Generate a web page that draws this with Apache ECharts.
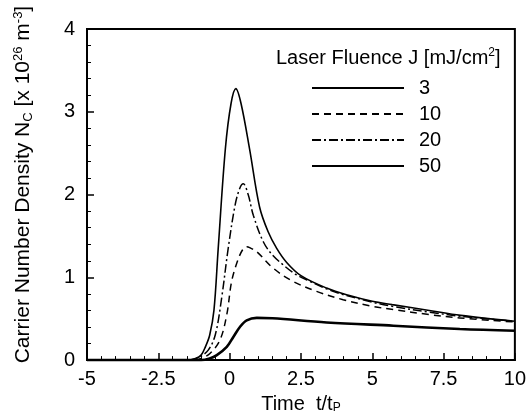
<!DOCTYPE html>
<html>
<head>
<meta charset="utf-8">
<script src="https://cdn.jsdelivr.net/npm/echarts@6/dist/echarts.min.js"></script>
<style>html,body{margin:0;padding:0;background:#fff}#c{width:529px;height:419px}</style>
</head>
<body>
<div id="c"></div>
<script>
// Data (t/tp, carrier density x1e26 m^-3)
const t3  = [-5, -1.0, -0.7, -0.45, -0.1, 0.13, 0.36, 0.6, 0.95, 1.5, 3.4, 5.74, 8.07, 10];
const v3  = [0, 0, 0.02, 0.06, 0.16, 0.28, 0.40, 0.48, 0.51, 0.505, 0.455, 0.415, 0.375, 0.355];
const t10 = [-5, -1.3, -1.0, -0.69, -0.34, -0.1, 0.07, 0.27, 0.45, 0.6, 0.75, 0.95, 1.53, 2.23, 3.05, 3.98, 5.0, 5.74, 7.0, 8.07, 10];
const v10 = [0, 0, 0.02, 0.08, 0.24, 0.55, 0.95, 1.19, 1.33, 1.37, 1.35, 1.31, 1.11, 0.95, 0.83, 0.73, 0.65, 0.61, 0.55, 0.51, 0.46];
const t20 = [-5, -1.4, -1.1, -0.75, -0.5, -0.28, -0.05, 0.19, 0.35, 0.48, 0.65, 0.83, 1.18, 1.5, 1.88, 2.3, 2.82, 3.4, 4.0, 5.0, 5.7, 7.0, 8.1, 10];
const v20 = [0, 0, 0.03, 0.12, 0.31, 0.75, 1.35, 1.87, 2.07, 2.13, 2.0, 1.75, 1.43, 1.27, 1.15, 1.04, 0.95, 0.86, 0.79, 0.70, 0.65, 0.58, 0.53, 0.47];
const t50 = [-5, -1.5, -1.2, -1.0, -0.85, -0.7, -0.55, -0.4, -0.15, 0.05, 0.22, 0.4, 0.7, 1.05, 1.35, 1.65, 2.0, 2.5, 3.4, 4.2, 5.0, 5.7, 7.0, 8.1, 10];
const v50 = [0, 0, 0.02, 0.06, 0.16, 0.3, 0.6, 1.35, 2.55, 3.1, 3.28, 3.1, 2.55, 1.85, 1.55, 1.35, 1.18, 1.02, 0.87, 0.78, 0.71, 0.67, 0.6, 0.54, 0.47];
const seriesNames = ['3', '10', '20', '50'];
const xTicks = [-5, -2.5, 0, 2.5, 5, 7.5, 10];
const yTicks = [0, 1, 2, 3, 4];

const pairs = (t, v) => t.map((x, i) => [x, v[i]]);
const FONT = 'Liberation Sans, Arial, Helvetica, sans-serif';
const chart = echarts.init(document.getElementById('c'));
const mk = (name, t, v, w, type) => ({
  name, type: 'line', data: pairs(t, v), showSymbol: false, symbol: 'none',
  smooth: 0.35, lineStyle: { color: '#000', width: w, type }, itemStyle: { color: '#000' }
});
chart.setOption({
  animation: false,
  backgroundColor: '#fff',
  grid: { left: 87, right: 14, top: 29, bottom: 56, show: true, borderColor: '#000', borderWidth: 2 },
  title: {
    text: 'Laser Fluence J [mJ/cm{sup|2}]',
    left: 271, top: 42,
    textStyle: { fontFamily: FONT, fontSize: 20, fontWeight: 'normal', color: '#000',
      rich: { sup: { fontSize: 12, verticalAlign: 'top', padding: [0, 0, 10, 0], fontFamily: FONT, color: '#000' } } }
  },
  legend: {
    data: seriesNames, orient: 'vertical', left: 306, top: 73,
    itemWidth: 92, itemHeight: 12, itemGap: 6,
    itemStyle: { color: 'transparent', borderColor: 'transparent', borderWidth: 0, opacity: 0 },
    textStyle: { fontFamily: FONT, fontSize: 20, color: '#000', padding: [0, 0, 0, 10] }
  },
  xAxis: {
    type: 'value', min: xTicks[0], max: xTicks[xTicks.length - 1], interval: 2.5,
    name: 'Time  t/t{sub|P}', nameLocation: 'middle', nameGap: 25,
    nameTextStyle: { fontFamily: FONT, fontSize: 20, color: '#000',
      rich: { sub: { fontSize: 12, verticalAlign: 'bottom', padding: [8, 0, 0, 0], fontFamily: FONT, color: '#000' } } },
    axisLine: { onZero: false, lineStyle: { color: '#000', width: 2 } },
    axisTick: { inside: true, length: 7, lineStyle: { color: '#000', width: 1.5 } },
    minorTick: { show: true, splitNumber: 5, length: 4, lineStyle: { color: '#000', width: 1 } },
    splitLine: { show: false },
    axisLabel: { fontFamily: FONT, fontSize: 20, color: '#000', margin: 9 }
  },
  yAxis: {
    type: 'value', min: yTicks[0], max: yTicks[yTicks.length - 1], interval: 1,
    name: 'Carrier Number Density N{sub|C} [x 10{sup|26} m{sup|-3}]', nameLocation: 'middle', nameGap: 52,
    nameTextStyle: { fontFamily: FONT, fontSize: 21, color: '#000', padding: [0, 0, 0, 20],
      rich: {
        sub: { fontSize: 13, verticalAlign: 'bottom', padding: [8, 0, 0, 0], fontFamily: FONT, color: '#000' },
        sup: { fontSize: 13, verticalAlign: 'top', padding: [0, 0, 10, 0], fontFamily: FONT, color: '#000' }
      } },
    axisLine: { onZero: false, lineStyle: { color: '#000', width: 2 } },
    axisTick: { inside: true, length: 7, lineStyle: { color: '#000', width: 1.5 } },
    minorTick: { show: true, splitNumber: 5, length: 4, lineStyle: { color: '#000', width: 1 } },
    splitLine: { show: false },
    axisLabel: { fontFamily: FONT, fontSize: 20, color: '#000', margin: 12 }
  },
  series: [
    mk('3', t3, v3, 2.6, 'solid'),
    mk('10', t10, v10, 1.5, [7, 5]),
    mk('20', t20, v20, 1.5, [9, 3, 2, 3]),
    mk('50', t50, v50, 1.6, 'solid')
  ]
});
</script>
</body>
</html>
